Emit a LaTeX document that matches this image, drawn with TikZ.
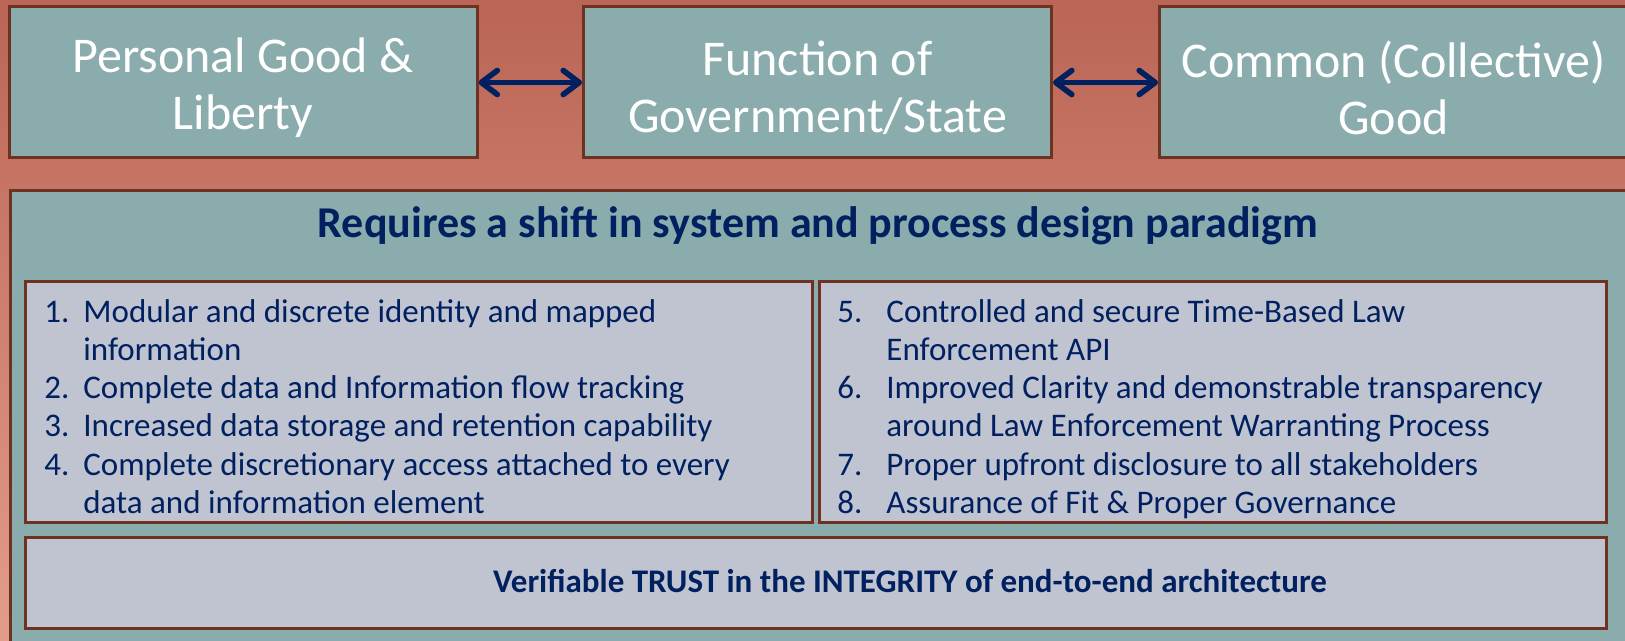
\documentclass[tikz,border=0pt]{standalone}
\usepackage{fontspec}
\setmainfont{Carlito}
\usetikzlibrary{arrows.meta}
\definecolor{tealbox}{HTML}{8AACAC}
\definecolor{lav}{HTML}{C0C4D0}
\definecolor{brd}{HTML}{6E3223}
\definecolor{navy}{HTML}{002060}
\definecolor{bgtop}{HTML}{BA6555}
\definecolor{bgbot}{HTML}{E39C8B}
\begin{document}
\begin{tikzpicture}[x=0.5pt,y=-0.5pt,
  topbox/.style={draw=brd, line width=1.5pt, fill=tealbox, minimum width=234pt,
    minimum height=75.5pt, inner sep=0pt},
  toptxt/.style={inner sep=0pt, text=white, align=center,
    font=\fontsize{25}{28.5}\selectfont},
  panelbox/.style={draw=brd, line width=1.5pt, fill=tealbox, anchor=north west, inner sep=0pt},
  listbox/.style={draw=brd, line width=1.5pt, fill=lav, anchor=north west, inner sep=0pt},
  arr/.style={draw=navy, line width=2.8pt,
    arrows={Straight Barb[round,length=8pt,width=12pt]-Straight Barb[round,length=8pt,width=12pt]}},
  listtxt/.style={anchor=base west, inner sep=0pt, text=navy, font=\fontsize{16.5}{19}\selectfont},
  headtxt/.style={anchor=base, inner sep=0pt, text=navy, font=\bfseries\fontsize{22}{25}\selectfont},
  trusttxt/.style={anchor=base, inner sep=0pt, text=navy, font=\bfseries\fontsize{16.5}{19}\selectfont}]
\clip (0,0) rectangle (1625,641);
\shade[top color=bgtop, bottom color=bgbot] (0,0) rectangle (1625,641);

% top row
\node[topbox] (pg) at (243,82.5) {};
\node[topbox] (fg) at (817.5,82.5) {};
\node[topbox] (cg) at (1393.5,82.5) {};
\node[toptxt] (pgt) at ([yshift=-2.8pt]pg.center) {Personal Good \&\\Liberty};
\node[toptxt] (fgt) at ([yshift=-2.8pt]fg.center) {Function of\\Government/State};
\node[toptxt] (cgt) at ([yshift=-2.8pt]cg.center) {Common (Collective)\\Good};
\draw[arr] (pg.east) -- (fg.west);
\draw[arr] (fg.east) -- (cg.west);

% panel
\node[panelbox, minimum width=825.5pt, minimum height=245.5pt] (panel) at (9,189) {};
\node[headtxt] (head) at (818,238) {Requires a shift in system and process design paradigm};

\node[listbox, minimum width=393.5pt, minimum height=120.5pt] (lbox) at (24,280) {};
\node[listbox, minimum width=393.5pt, minimum height=120.5pt] (rbox) at (818,280) {};
\node[listbox, minimum width=790.5pt, minimum height=45.5pt] (tbox) at (24,536) {};

% left list
\foreach \n/\t [count=\i] in {1./Modular and discrete identity and mapped, /information,
  2./Complete data and Information flow tracking, 3./Increased data storage and retention capability,
  4./Complete discretionary access attached to every, /data and information element}{
  \node[listtxt] (ln\i) at (44,{322+38.3*(\i-1)}) {\n};
  \node[listtxt] (lt\i) at (83,{322+38.3*(\i-1)}) {\t};
}
% right list
\foreach \n/\t [count=\i] in {5./Controlled and secure Time-Based Law, /Enforcement API,
  6./Improved Clarity and demonstrable transparency, /around Law Enforcement Warranting Process,
  7./Proper upfront disclosure to all stakeholders, 8./Assurance of Fit \& Proper Governance}{
  \node[listtxt] (rn\i) at (837,{322+38.3*(\i-1)}) {\n};
  \node[listtxt] (rt\i) at (886,{322+38.3*(\i-1)}) {\t};
}

\node[trusttxt] (trust) at (910,592) {Verifiable TRUST in the INTEGRITY of end-to-end architecture};
\end{tikzpicture}
\end{document}
